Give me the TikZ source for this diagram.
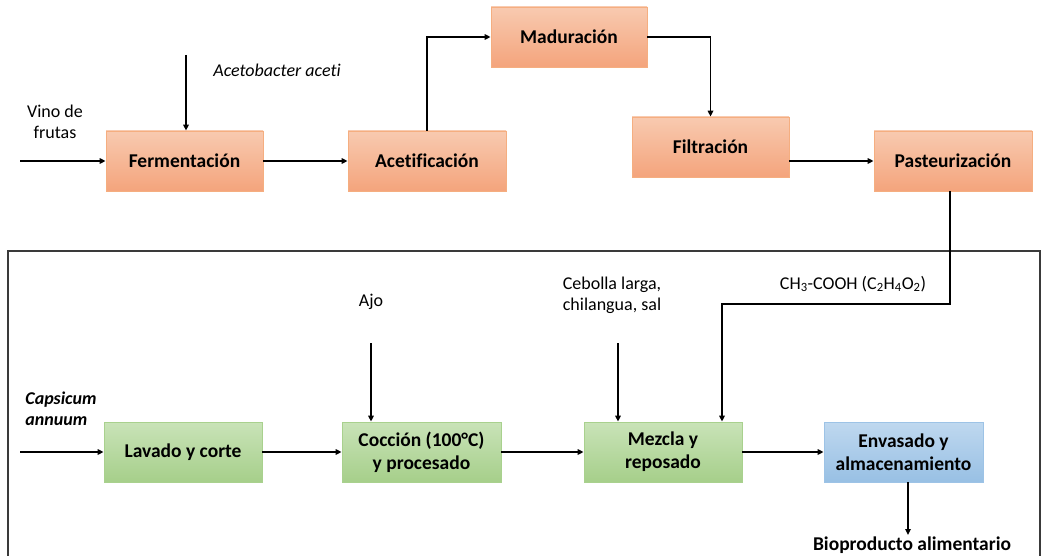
\documentclass[tikz,border=0pt]{standalone}
\usepackage{fontspec}
\setmainfont{Carlito}[Ligatures=NoCommon]
\usetikzlibrary{arrows.meta}
\definecolor{orTop}{HTML}{F8CAB0}
\definecolor{orBot}{HTML}{F4A47C}
\definecolor{orLine}{HTML}{F5AE80}
\definecolor{grTop}{HTML}{C9E3B8}
\definecolor{grBot}{HTML}{A6CF8A}
\definecolor{grLine}{HTML}{A9D18E}
\definecolor{blTop}{HTML}{BFD8EF}
\definecolor{blBot}{HTML}{98C0E4}
\definecolor{blLine}{HTML}{9DC3E6}
\definecolor{frameGray}{HTML}{3A3A3A}
\tikzset{
  stage/.style={minimum height=60pt, inner sep=2pt, align=center,
    font=\fontsize{19.5}{23}\selectfont\bfseries, line width=0.8pt},
  orangebox/.style={stage, draw=orLine, top color=orTop, bottom color=orBot},
  greenbox/.style={stage, draw=grLine, top color=grTop, bottom color=grBot},
  bluebox/.style={stage, draw=blLine, top color=blTop, bottom color=blBot},
  lbl/.style={align=center, font=\fontsize{18}{21}\selectfont, inner sep=0pt},
  flow/.style={line width=1.7pt, -{Triangle[length=6pt,width=5.5pt]}},
}
\begin{document}
\begin{tikzpicture}[x=1pt,y=-1pt]
\useasboundingbox (0,0) rectangle (1042,556);
\clip (0,0) rectangle (1042,556);

% frame around the pepper process
\draw[frameGray, line width=1.3pt] (8,251) rectangle (1040,620);

% vinegar line
\node[orangebox, minimum width=157pt] (ferm) at (184.5,161) {Fermentación};
\node[orangebox, minimum width=158pt] (acet) at (427,161) {Acetificación};
\node[orangebox, minimum width=156pt] (mad)  at (569,37)  {Maduración};
\node[orangebox, minimum width=157pt] (filt) at (710.5,147) {Filtración};
\node[orangebox, minimum width=158pt] (past) at (953,161) {Pasteurización};

\node[lbl] (vino) at (55,122) {Vino de\\frutas};
\node[lbl, font=\fontsize{18}{21}\selectfont\itshape] (aceti) at (277,70) {Acetobacter aceti};
\coordinate (vinoIn) at (20,161);
\coordinate (acetiIn) at (186,55);

\draw[flow] (vinoIn) -- (ferm.west);
\draw[flow] (acetiIn) -- (acetiIn |- ferm.north);
\draw[flow] (ferm.east) -- (acet.west);
\draw[flow] (acet.north) |- (mad.west);
\draw[flow] (mad.east) -| (filt.north);
\draw[flow] (filt.east |- past.west) -- (past.west);

% pepper sauce line
\node[greenbox, minimum width=158pt] (lav) at (183,452) {Lavado y corte};
\node[greenbox, minimum width=159pt] (coc) at (421.5,452) {Cocción (100°C)\\y procesado};
\node[greenbox, minimum width=158pt] (mez) at (663,452) {Mezcla y\\reposado};
\node[bluebox, minimum width=159pt] (env) at (903.5,452) {Envasado y\\almacenamiento};

\node[lbl, align=left, font=\fontsize{18}{21}\selectfont\bfseries\itshape] (caps) at (61,409) {Capsicum\\annuum};
\node[lbl] (ajo) at (371,302) {Ajo};
\node[lbl] (ceb) at (612,295) {Cebolla larga,\\chilangua, sal};
\node[lbl] (acid) at (853,284) {CH\textsubscript{3}-COOH (C\textsubscript{2}H\textsubscript{4}O\textsubscript{2})};
\node[lbl, font=\fontsize{19.5}{23}\selectfont\bfseries] (bio) at (912,545) {Bioproducto alimentario};

\coordinate (capsIn) at (20,452);
\coordinate (ajoIn) at (371,343);
\coordinate (cebIn) at (618,343);
\coordinate (acidBend) at (722,304);

\draw[flow] (capsIn) -- (lav.west);
\draw[flow] (lav.east) -- (coc.west);
\draw[flow] (coc.east) -- (mez.west);
\draw[flow] (mez.east) -- (env.west);
\draw[flow] (ajoIn) -- (ajoIn |- coc.north);
\draw[flow] (cebIn) -- (cebIn |- mez.north);
\draw[flow] ([xshift=-3pt]past.south) |- (acidBend) -- (acidBend |- mez.north);
\draw[flow] ([xshift=4.5pt]env.south) -- ([xshift=4.5pt]env.south |- 0,535);
\end{tikzpicture}
\end{document}
